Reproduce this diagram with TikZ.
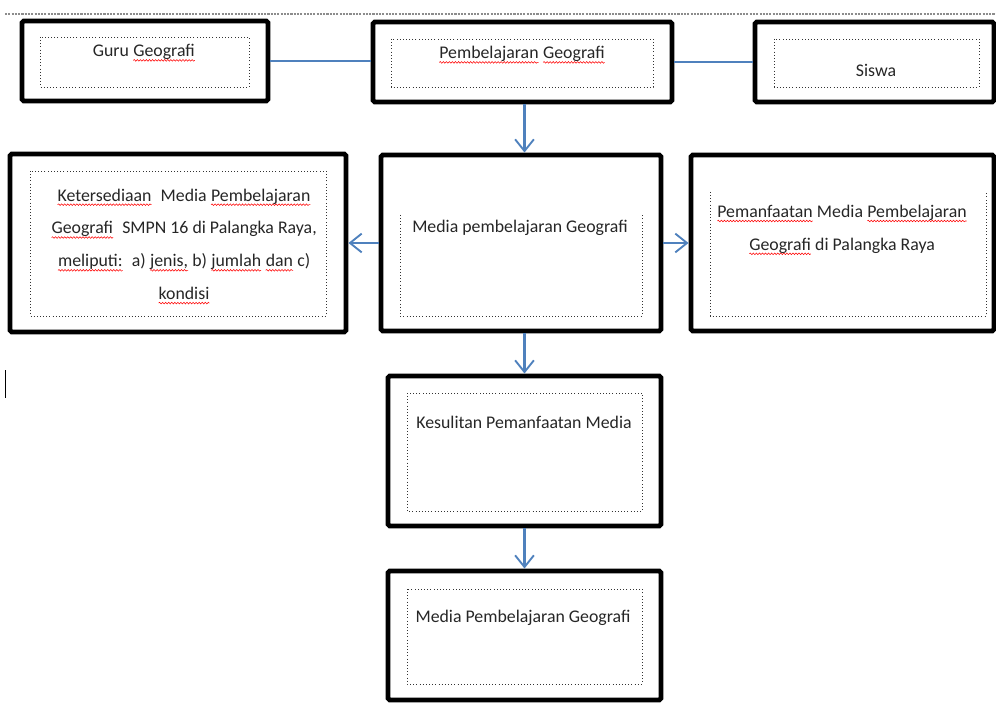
\documentclass[tikz,border=0pt]{standalone}
\usepackage{fontspec}
\setmainfont{Carlito}
\usetikzlibrary{arrows.meta,positioning,decorations.pathmorphing}
\newcommand\salah[1]{\tikz[baseline=(w.base)]{\node[inner sep=0pt,outer sep=0pt] (w) {#1};
  \draw[red,line width=0.45pt,decorate,decoration={snake,amplitude=0.7pt,segment length=2.6pt}]
    ([yshift=-3pt]w.base west) -- ([yshift=-3pt]w.base east);}}
\definecolor{biru}{RGB}{79,129,189}
\tikzset{
  kotak/.style={draw=black,line width=4.2pt,rounded corners=1.5pt,inner sep=0pt},
  titik/.style={draw=black!80,line width=0.7pt,dotted},
  garis/.style={draw=biru,line width=2pt},
  panah/.style={garis,-{Straight Barb[length=10pt,width=16pt,line width=1.6pt]}},
  tulisan/.style={font=\fontsize{15.2}{28}\selectfont,text=black!85,align=center,inner sep=0pt}
}
\begin{document}
\begin{tikzpicture}[x=0.03cm,y=-0.03cm]
\useasboundingbox (0,0) rectangle (996,705);
% garis atas
\draw[black!45,line width=1.8pt,densely dotted] (5,14) -- (996,14);
\draw[line width=0.7pt] (5,370) -- (5,398);

% baris atas
\node[kotak,minimum width=7.38cm,minimum height=2.4cm] (guru) at (145,61) {};
\node[kotak,minimum width=8.97cm,minimum height=2.4cm] (belajar) at (522.5,62) {};
\node[kotak,minimum width=7.17cm,minimum height=2.4cm] (siswa) at (874.5,62) {};
\draw[titik] (40,37) rectangle (249,87);
\draw[titik] (391,39) rectangle (653,87);
\draw[titik] (774,39) rectangle (979,87);
\node[tulisan] (tguru) at (144,53) {Guru \salah{Geografi}};
\node[tulisan] (tbelajar) at (522,55) {\salah{Pembelajaran} \salah{Geografi}};
\node[tulisan] (tsiswa) at (876,70) {Siswa};

% baris tengah
\node[kotak,minimum width=10.08cm,minimum height=5.34cm] (sedia) at (178,243) {};
\node[kotak,minimum width=8.4cm,minimum height=5.28cm] (media) at (521,243) {};
\node[kotak,minimum width=9.09cm,minimum height=5.28cm] (manfaat) at (842.5,243) {};
\draw[titik] (30,171) rectangle (326,316);
\draw[titik] (400,215) -- (400,316) -- (642,316) -- (642,215);
\draw[titik] (710,192) -- (710,316) -- (986,316) -- (986,192);
\node[tulisan] (tsedia) at (184,246.5) {\salah{Ketersediaan}\enskip Media \salah{Pembelajaran}\\
  \salah{Geografi}\enskip SMPN 16 di Palangka Raya,\\
  \salah{meliputi:}\enskip a) \salah{jenis,} b) \salah{jumlah} \salah{dan} c)\\
  \salah{kondisi}};
\node[tulisan] (tmedia) at (520,228) {Media pembelajaran Geografi};
\node[tulisan] (tmanfaat) at (842,230) {\salah{Pemanfaatan} Media \salah{Pembelajaran}\\
  \salah{Geografi} di Palangka Raya};

% bawah
\node[kotak,minimum width=8.19cm,minimum height=4.5cm] (sulit) at (524.5,451) {};
\node[kotak,minimum width=8.19cm,minimum height=3.87cm] (hasil) at (524.5,635.5) {};
\draw[titik] (407,393) rectangle (642,511);
\draw[titik] (407,589) rectangle (642,684);
\node[tulisan] (tsulit) at (524,422) {Kesulitan Pemanfaatan Media};
\node[tulisan] (thasil) at (523,618) {Media Pembelajaran Geografi};

% penghubung
\draw[garis] (guru.east) -- (guru.east -| belajar.west);
\draw[garis] (belajar.east) -- (belajar.east -| siswa.west);
\draw[panah] (belajar.south -| sulit.north) -- (media.north -| sulit.north);
\draw[panah] (media.west) -- (sedia.east);
\draw[panah] (media.east) -- (manfaat.west);
\draw[panah] (media.south -| sulit.north) -- (sulit.north);
\draw[panah] (sulit.south) -- (hasil.north);
\end{tikzpicture}
\end{document}
